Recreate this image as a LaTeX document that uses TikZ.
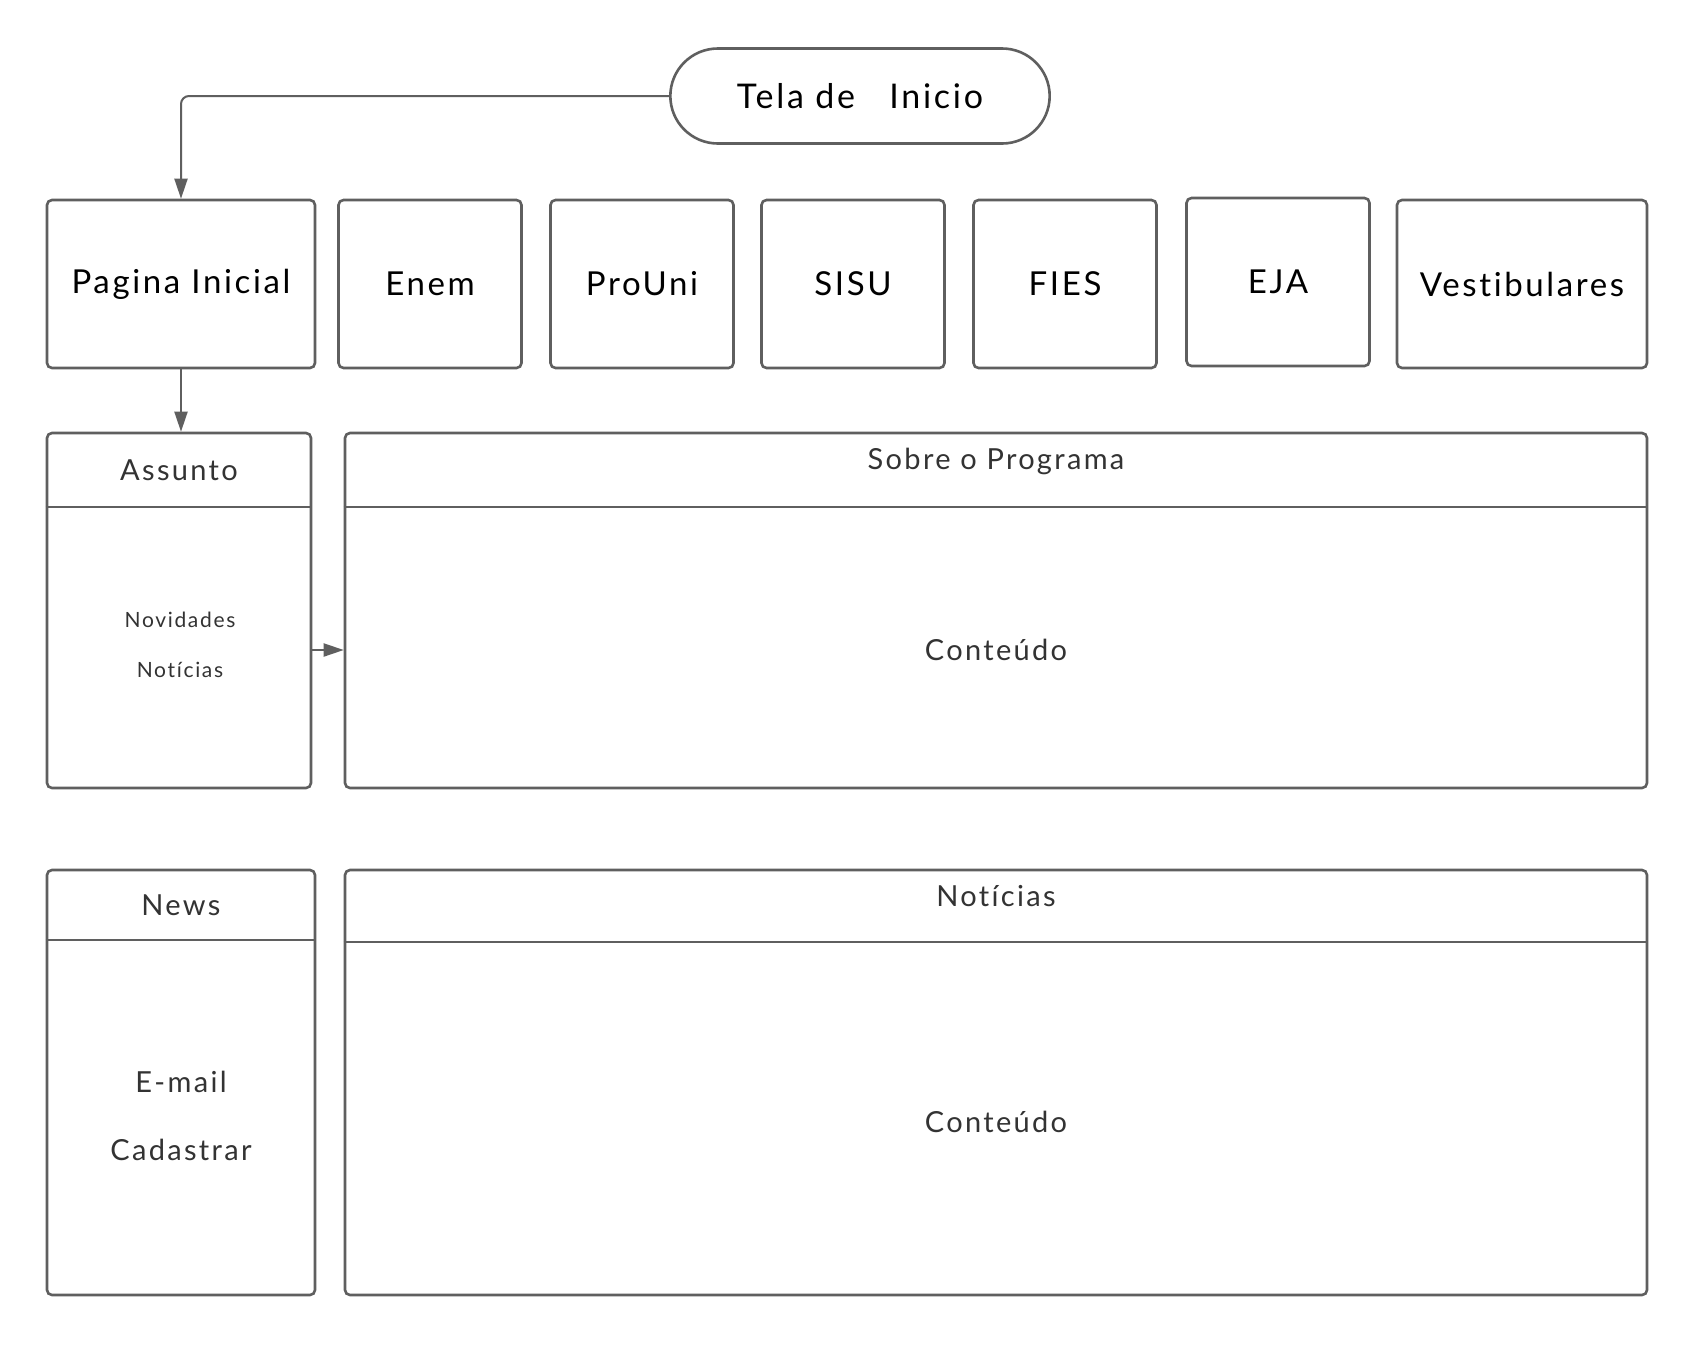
\documentclass[tikz,border=0pt]{standalone}
\usepackage{fontspec}
\setmainfont{Lato}[LetterSpace=8, Ligatures={NoCommon}]
\usetikzlibrary{shapes.misc,arrows.meta}

\definecolor{linegray}{HTML}{5F5F5F}
\definecolor{textgray}{HTML}{333333}

\tikzset{
    menubox/.style={draw=linegray, line width=2.6pt, rounded corners=5pt,
        minimum height=168pt, font=\fontsize{33}{38}\selectfont, text=black},
    panel/.style={draw=linegray, line width=2.6pt, rounded corners=5pt},
    headtext/.style={font=\fontsize{29}{34}\selectfont, text=textgray},
    bodytext/.style={font=\fontsize{29}{34}\selectfont, text=textgray},
    smalltext/.style={font=\fontsize{21}{25}\selectfont, text=textgray},
    flow/.style={draw=linegray, line width=2pt, -{Triangle[length=20pt,width=13pt]}},
}

\begin{document}
\begin{tikzpicture}[x=1pt, y=-1pt]
    \useasboundingbox[fill=white] (0,0) rectangle (1696,1347);

    % start
    \node[draw=linegray, line width=2.6pt, rounded rectangle, minimum width=386pt,
          minimum height=95pt, font=\fontsize{34}{40}\selectfont] (tela) at (860,96) {Tela de\ \ \ Inicio};

    % menu row
    \node[menubox, minimum width=268pt] (pagina) at (181,284) {Pagina Inicial};
    \node[menubox, minimum width=183pt] (enem) at (430,284) {Enem};
    \node[menubox, minimum width=183pt] (prouni) at (642,284) {ProUni};
    \node[menubox, minimum width=183pt] (sisu) at (853,284) {SISU};
    \node[menubox, minimum width=183pt] (fies) at (1065,284) {FIES};
    \node[menubox, minimum width=183pt] (eja) at (1278,282) {EJA};
    \node[menubox, minimum width=250pt] (vest) at (1522,284) {Vestibulares};

    % assunto / sobre o programa
    \node[panel, minimum width=264pt, minimum height=355pt] (assunto) at (179,610.5) {};
    \draw[panel] (assunto.west |- 0,507) -- (assunto.east |- 0,507);
    \node[headtext] (assuntoT) at (179,470) {Assunto};
    \node[smalltext] (novidades) at (180,620) {Novidades};
    \node[smalltext] (noticias1) at (180,670) {Notícias};

    \node[panel, minimum width=1302pt, minimum height=355pt] (sobre) at (996,610.5) {};
    \draw[panel] (sobre.west |- 0,507) -- (sobre.east |- 0,507);
    \node[headtext] (sobreT) at (996,461) {Sobre o Programa};
    \node[bodytext] (cont1) at (996,650) {Conteúdo};

    % news / noticias
    \node[panel, minimum width=268pt, minimum height=425pt] (news) at (181,1082.5) {};
    \draw[panel] (news.west |- 0,940) -- (news.east |- 0,940);
    \node[headtext] (newsT) at (181,905) {News};
    \node[bodytext] (email) at (181,1082) {E-mail};
    \node[bodytext] (cadastrar) at (181,1150) {Cadastrar};

    \node[panel, minimum width=1302pt, minimum height=425pt] (noticias) at (996,1082.5) {};
    \draw[panel] (noticias.west |- 0,942) -- (noticias.east |- 0,942);
    \node[headtext] (noticiasT) at (996,896) {Notícias};
    \node[bodytext] (cont2) at (996,1122) {Conteúdo};

    % connectors
    \draw[flow, rounded corners=8pt] (tela.west) -| (pagina.north);
    \draw[flow] (pagina.south) -- (pagina.south |- assunto.north);
    \draw[flow] (assunto.east |- cont1) -- (sobre.west |- cont1);
\end{tikzpicture}
\end{document}
